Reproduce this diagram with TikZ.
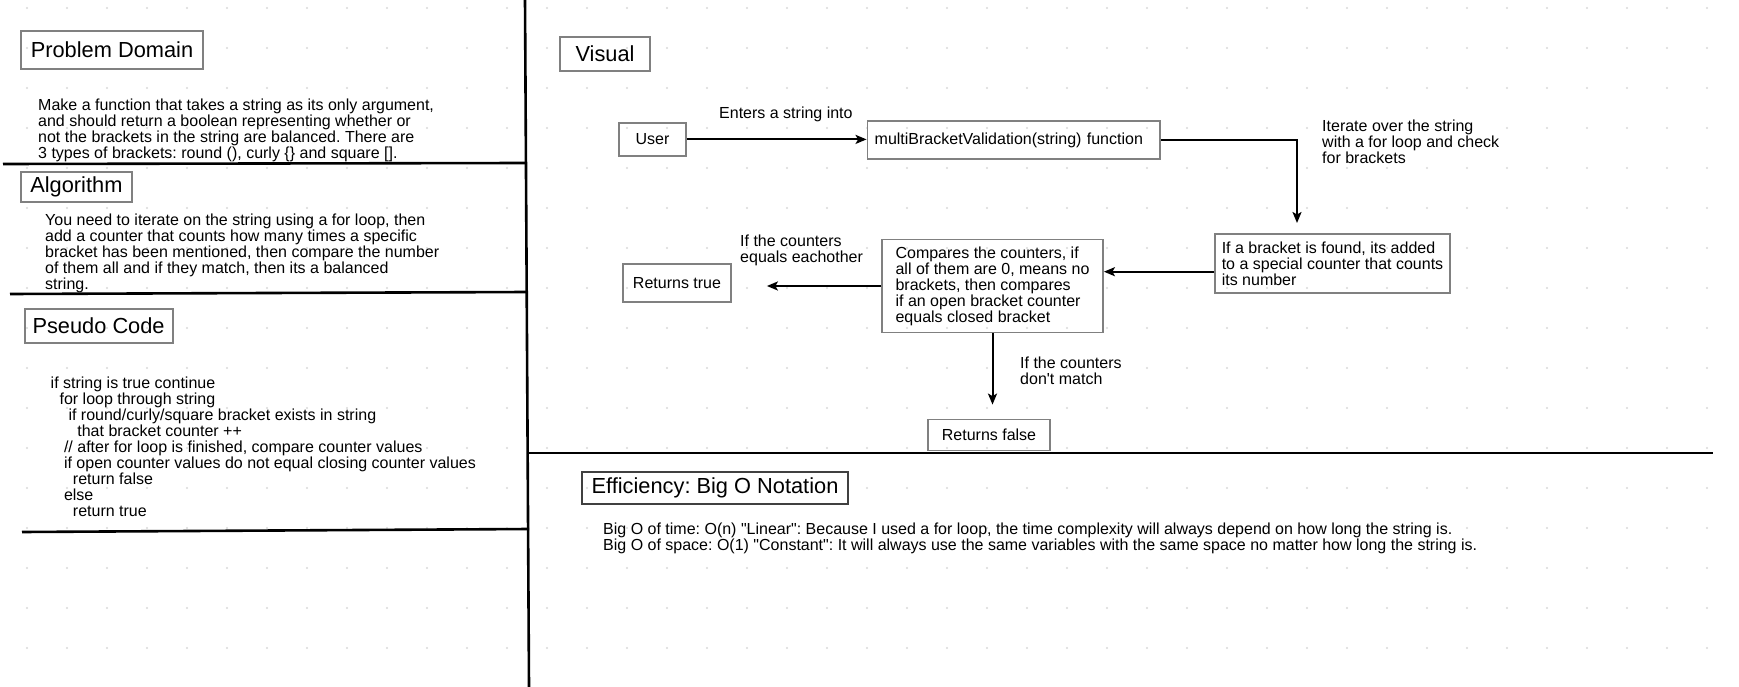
\documentclass[tikz,border=0pt]{standalone}
\usepackage{fontspec}
\setmainfont{Liberation Sans}
\usetikzlibrary{arrows.meta}
\frenchspacing

\begin{document}
\begin{tikzpicture}[x=1pt,y=-1pt]
\tikzstyle{myarrow}=[line width=2pt,draw=black,-{Stealth[length=11pt,width=9pt,inset=2.5pt]}]
\tikzstyle{mybox}=[draw=black!50,line width=1.8pt,inner sep=0pt,font=\fontsize{16}{16}\selectfont]
\tikzstyle{mytitle}=[mybox,font=\fontsize{21.8}{24}\selectfont]
\tikzstyle{mytext}=[anchor=west,inner sep=0pt,align=left,font=\fontsize{16}{16}\selectfont]
\tikzstyle{divider}=[line width=2.6pt,draw=black]
\def\pcind#1{\hspace*{#1\dimexpr 4.45pt\relax}}
\def\q{\textquotedbl}

\useasboundingbox (0,0) rectangle (1739,687);

% canvas dots
\foreach \i in {0,...,42}
  \foreach \j in {0,...,16}
    \fill[black!15] (27+40*\i,8+40*\j) circle (1.1);

% section lines
\draw[divider] (525,0) -- (529,687);
\draw[divider] (3,164) -- (526,163);
\draw[divider] (10,294) -- (527,292);
\draw[divider] (22,532) -- (529,529);
\draw[divider] (529,453) -- (1713,453);

% left column
\node[mytitle,minimum width=182,minimum height=38] (domain) at (112,50) {Problem Domain};
\node[mytext] (domainText) at (38,130.3) {Make a function that takes a string as its only argument,\\and should return a boolean representing whether or\\not the brackets in the string are balanced. There are\\3 types of brackets: round (), curly \{\} and square [].};

\node[mytitle,minimum width=111,minimum height=30] (algo) at (76.4,187) {Algorithm};
\node[mytext] (algoText) at (45,253.4) {You need to iterate on the string using a for loop, then\\add a counter that counts how many times a specific\\bracket has been mentioned, then compare the number\\of them all and if they match, then its a balanced\\string.};

\node[mytitle,minimum width=148,minimum height=34] (pseudo) at (98.6,326) {Pseudo Code};
\node[mytext] (pseudoText) at (50.5,446.8) {if string is true continue\\
\pcind{2}for loop through string\\
\pcind{4}if round/curly/square bracket exists in string\\
\pcind{6}that bracket counter ++\\
\pcind{3}// after for loop is finished, compare counter values\\
\pcind{3}if open counter values do not equal closing counter values\\
\pcind{5}return false\\
\pcind{3}else\\
\pcind{5}return true};

% visual
\node[mytitle,minimum width=90,minimum height=34] (visual) at (605,54) {Visual};
\node[mybox,minimum width=67,minimum height=33] (user) at (652.5,139.4) {User};
\node[mybox,minimum width=292.5,minimum height=38.3,align=left,text width=278] (func) at (1013.7,139.9) {multiBracketValidation(string) function};
\node[mytext] (entersText) at (719,114) {Enters a string into};

\node[mybox,minimum width=235,minimum height=58.7,align=left] (found) at (1332.5,263.3) {If a bracket is found, its added\\to a special counter that counts\\its number};
\node[mytext] (iterText) at (1322,141.3) {Iterate over the string\\with a for loop and check\\for brackets};

\node[mybox,minimum width=221,minimum height=93,align=left] (compare) at (992.5,286) {Compares the counters, if\\all of them are 0, means no\\brackets, then compares\\if an open bracket counter\\equals closed bracket};

\node[mybox,minimum width=108,minimum height=38] (true) at (677,283) {Returns true};
\node[mytext] (eqText) at (740,250.1) {If the counters\\equals eachother};

\node[mybox,minimum width=122,minimum height=31] (false) at (989,435) {Returns false};
\node[mytext] (noText) at (1020,370.7) {If the counters\\don\textquotesingle t match};

% connectors
\coordinate (foundIn) at (1297,223);
\coordinate (foundOut) at ([yshift=-8.4pt]found.west);
\draw[myarrow] (user.east) -- (user.east -| func.west);
\draw[myarrow] (func.east) -| (foundIn);
\draw[myarrow] (foundOut) -- (foundOut -| compare.east);
\draw[myarrow,shorten >=35pt] (compare.west) -- (compare.west -| true.east);
\draw[myarrow,shorten >=14pt] (compare.south) -- (compare.south |- false.north);

% efficiency
\node[mytitle,draw=black!75,minimum width=266.6,minimum height=31.7] (bigO) at (715,488.2) {Efficiency: Big O Notation};
\node[mytext] (bigOText) at (603,537.9) {Big O of time: O(n) \q Linear\q: Because I used a for loop, the time complexity will always depend on how long the string is.\\Big O of space: O(1) \q Constant\q: It will always use the same variables with the same space no matter how long the string is.};

\end{tikzpicture}
\end{document}
